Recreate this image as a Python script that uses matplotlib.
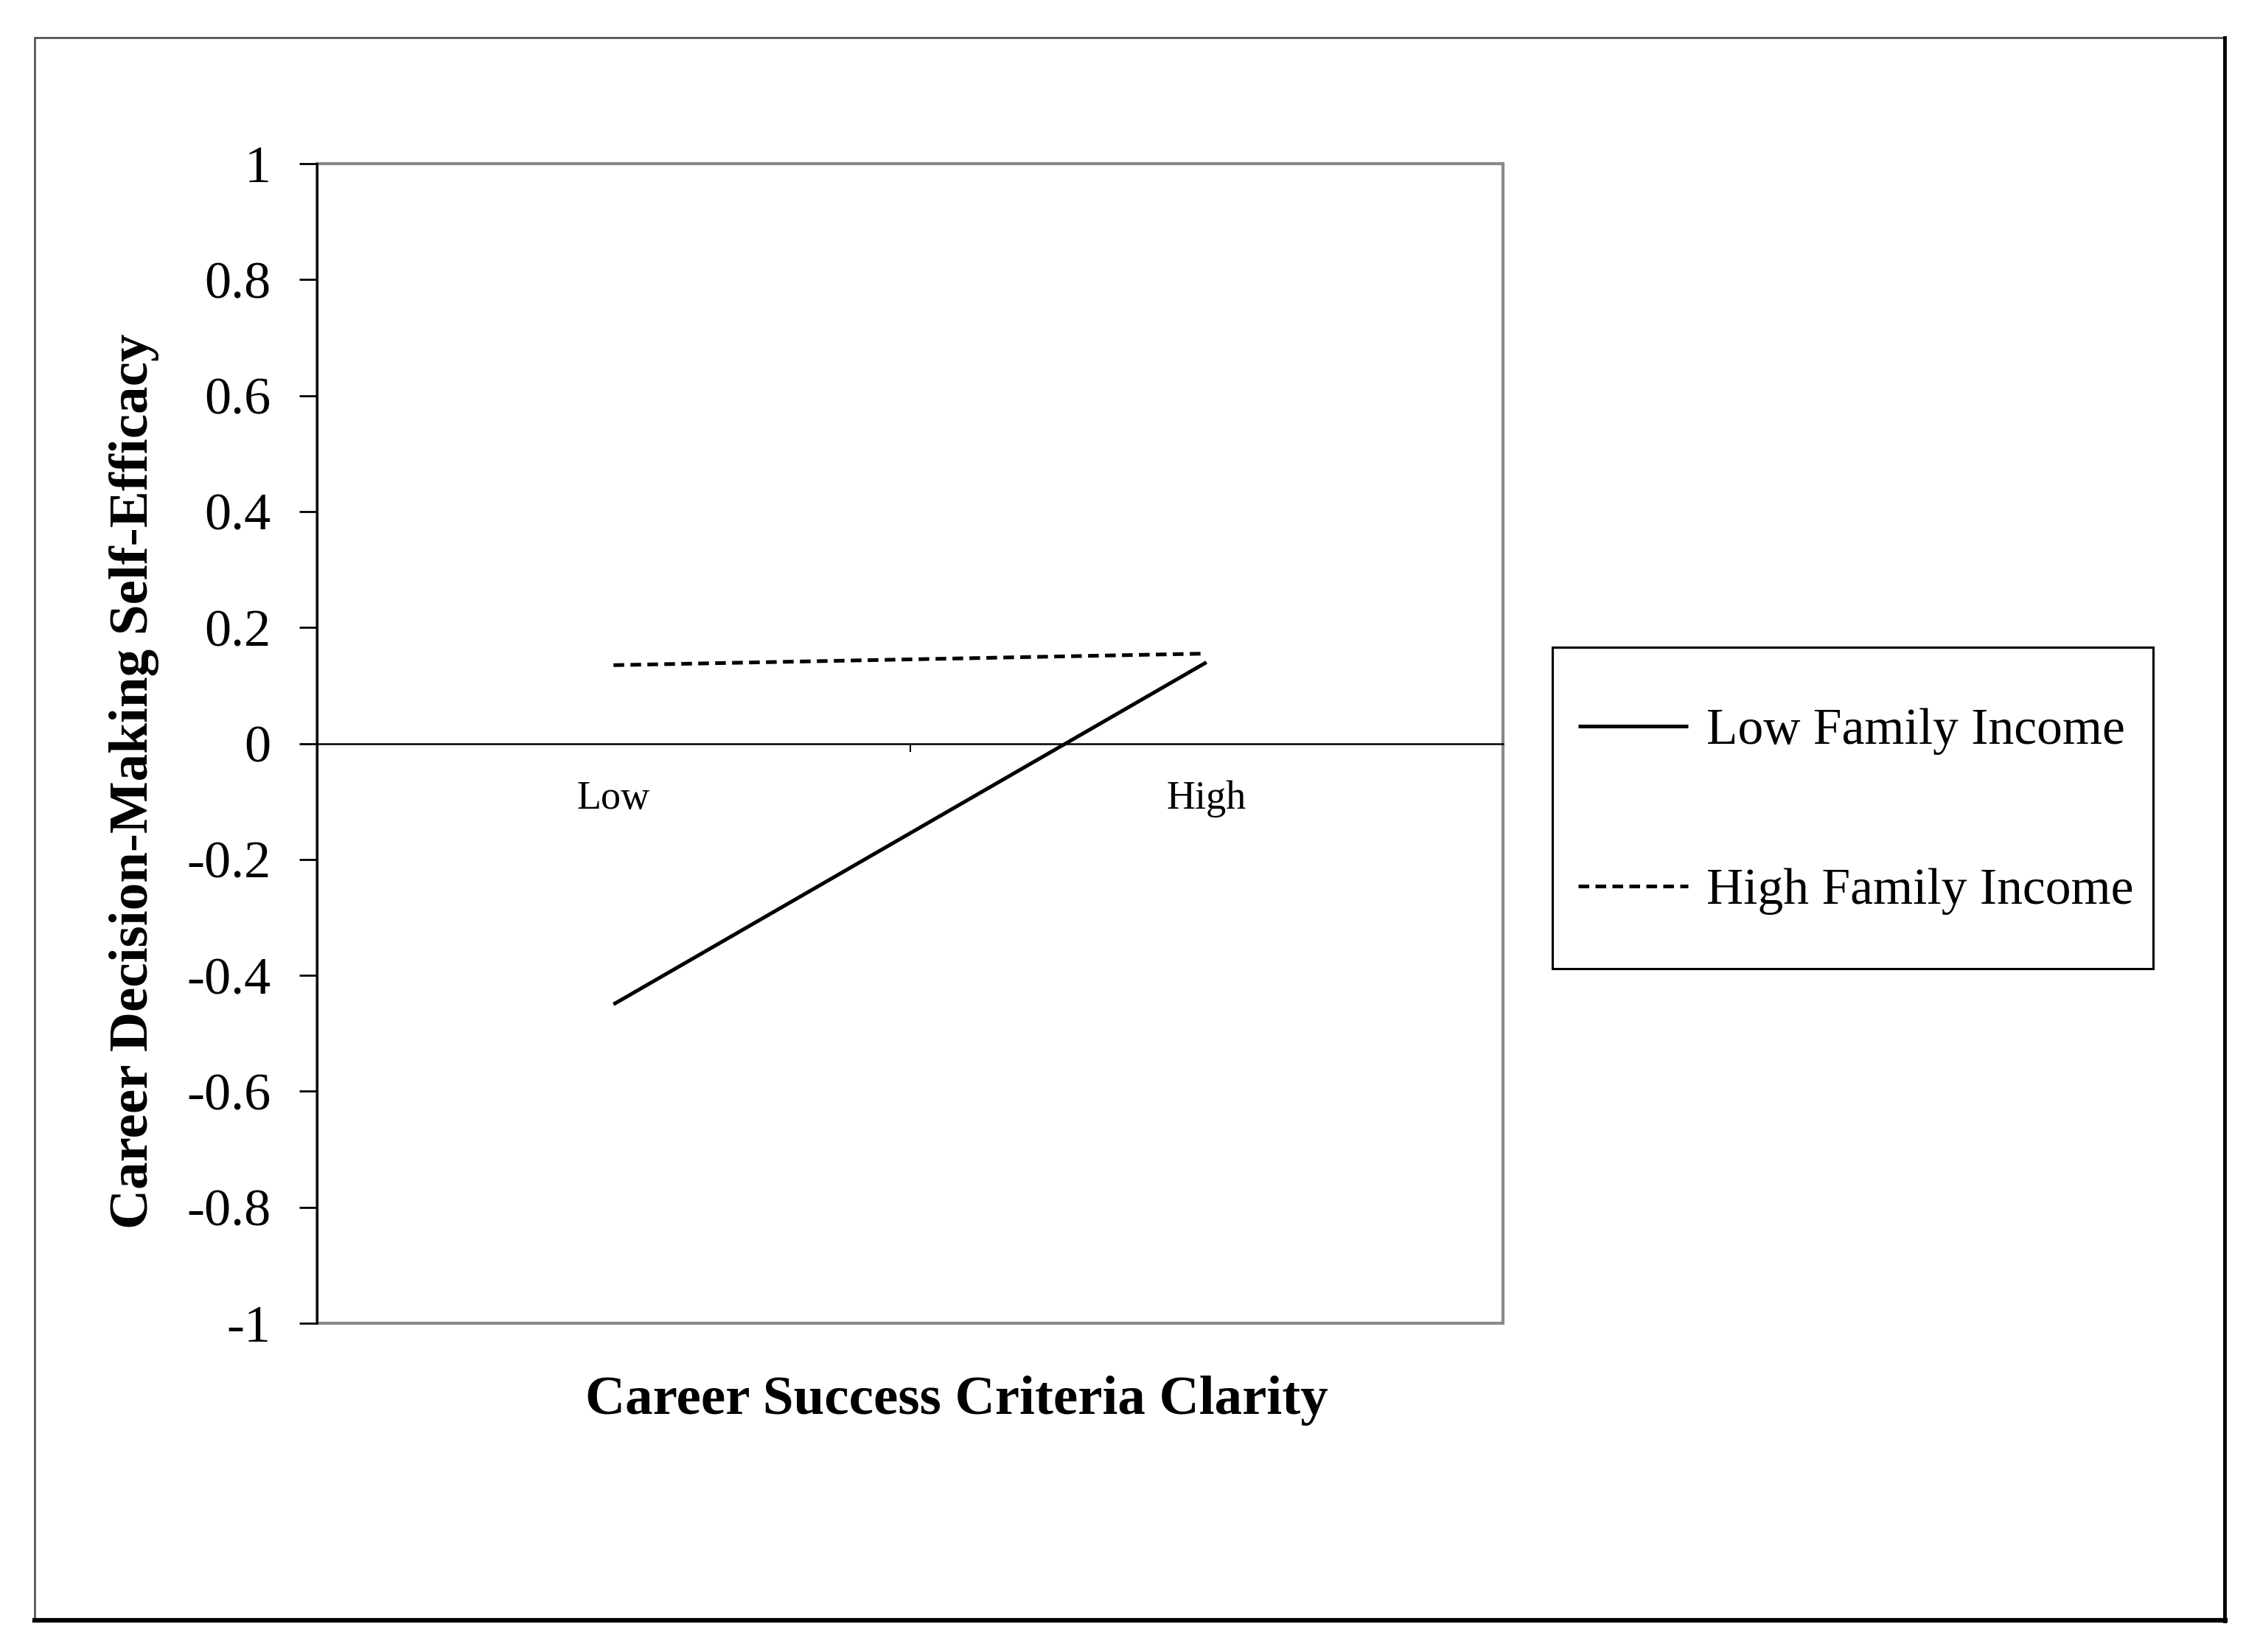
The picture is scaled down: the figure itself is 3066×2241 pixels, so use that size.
import matplotlib
matplotlib.use("Agg")
import matplotlib.pyplot as plt
from matplotlib.patches import Rectangle
from matplotlib.lines import Line2D

# Simple slopes: career success criteria clarity x family income
categories = ["Low", "High"]
cat_pos = [1, 3]
low_income = [-0.45, 0.14]
high_income = [0.135, 0.155]
series_names = ["Low Family Income", "High Family Income"]
yticks = [1, 0.8, 0.6, 0.4, 0.2, 0, -0.2, -0.4, -0.6, -0.8, -1]
ytick_labels = ["1", "0.8", "0.6", "0.4", "0.2", "0", "-0.2", "-0.4", "-0.6", "-0.8", "-1"]

plt.rcParams["font.family"] = ["Liberation Serif", "DejaVu Serif"]

W, H = 3066, 2241
fig = plt.figure(figsize=(W / 100, H / 100), dpi=100)

# outer frame: thin grey top/left, heavy dark bottom/right
fig.patches.append(Rectangle((47 / W, 1 - 2197 / H), (3017 - 47) / W, (2197 - 51) / H,
                             transform=fig.transFigure, fill=False,
                             edgecolor="#555555", lw=2))
fig.lines.append(Line2D([47 / W, 3019 / W], [1 - 2198 / H] * 2, transform=fig.transFigure,
                        color="black", lw=4.5))
fig.lines.append(Line2D([3018 / W] * 2, [1 - 2199 / H, 1 - 51 / H], transform=fig.transFigure,
                        color="black", lw=3.5))

ax = fig.add_axes([430 / W, 1 - 1795 / H, (2039 - 430) / W, (1795 - 222) / H])

ax.plot(cat_pos, low_income, color="black", lw=3.6, solid_capstyle="butt",
        label=series_names[0])
ax.plot(cat_pos, high_income, color="black", lw=3.6, dashes=(2.9, 1.7),
        label=series_names[1])

ax.set_xlim(0, 4)
ax.set_ylim(-1, 1)

# grey plot-area border
ax.add_patch(Rectangle((0, 0), 1, 1, transform=ax.transAxes, fill=False,
                       edgecolor="#8a8a8a", lw=3, zorder=0, clip_on=False))
ax.spines["top"].set_visible(False)
ax.spines["right"].set_visible(False)
ax.spines["left"].set_color("black")
ax.spines["left"].set_linewidth(2.2)
ax.spines["left"].set_zorder(3)
ax.spines["bottom"].set_position(("data", 0))
ax.spines["bottom"].set_color("black")
ax.spines["bottom"].set_linewidth(1.8)

ax.set_yticks(yticks)
ax.set_yticklabels(ytick_labels)
ax.tick_params(axis="y", direction="out", length=17, width=2, pad=28, labelsize=52)

ax.set_xticks([2])
ax.set_xticklabels([""])
ax.set_xticks(cat_pos, minor=True)
ax.set_xticklabels(categories, minor=True)
ax.tick_params(axis="x", which="major", direction="out", length=8, width=1.5)
ax.tick_params(axis="x", which="minor", length=0, pad=36, labelsize=39)

fig.text(182 / W, 1 - 1060 / H, "Career Decision-Making Self-Efficacy", rotation=90,
         ha="center", va="center", fontsize=54, fontweight="bold")
fig.text(1298 / W, 1 - 1900 / H, "Career Success Criteria Clarity",
         ha="center", va="center", fontsize=54, fontweight="bold")

# legend box drawn separately so the entries can sit with their own spacing
fig.patches.append(Rectangle((2106 / W, 1 - 1314 / H), (2921 - 2106) / W, (1314 - 878) / H,
                             transform=fig.transFigure, fill=False,
                             edgecolor="black", lw=2.2))
leg = ax.legend(loc="center left", bbox_to_anchor=(2141 / W, 1 - 1101 / H),
                bbox_transform=fig.transFigure, borderaxespad=0, borderpad=0,
                fontsize=50, frameon=False,
                handlelength=2.15, handletextpad=0.35, labelspacing=2.21)

fig.savefig("out.png", dpi=100, facecolor="white")
